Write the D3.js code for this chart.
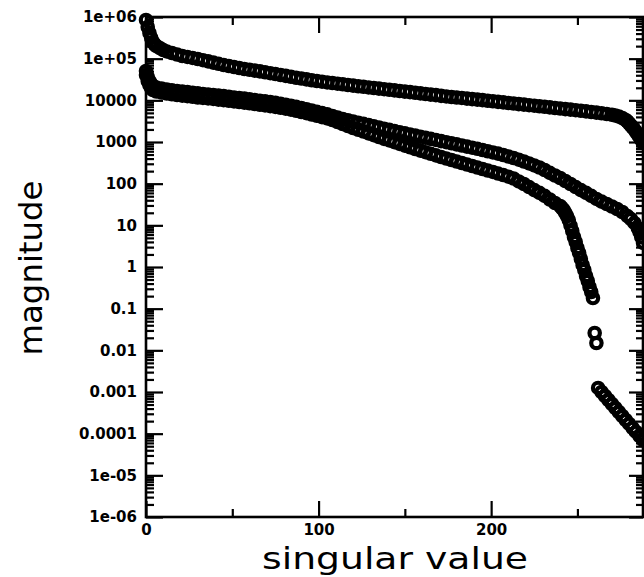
<!DOCTYPE html>
<html>
<head>
<meta charset="utf-8">
<script src="https://cdn.jsdelivr.net/npm/d3@7"></script>
<style>
  body { margin: 0; background: #fff; }
  .tick text { font-family: "DejaVu Sans", sans-serif; font-weight: bold; font-size: 15px; fill: #000; }
  .tick line { stroke: #000; stroke-width: 2.2; }
</style>
</head>
<body>
<div id="chart"></div>
<script>
// [singular value index, magnitude]
const upperBand = [[0,850000],[1,575000],[2,413000],[3,313000],[4,251000],[5,219000],[6,201000],[8,180000],[10,161000],[12,149000],[15,137000],[18,126000],[21,116000],[24,110000],[27,104000],[30,98000],[33,92000],[36,86000],[39,80500],[42,75300],[45,70500],[48,66700],[51,63100],[54,59700],[57,56500],[60,54000],[63,51700],[66,49500],[69,47100],[72,44800],[75,42900],[78,40600],[81,38600],[84,36700],[87,34900],[90,33400],[93,31800],[96,30400],[99,29100],[102,28000],[105,26900],[108,26100],[111,25100],[114,24300],[117,23300],[120,22600],[123,21800],[126,21100],[129,20400],[132,19800],[135,19100],[138,18500],[141,17900],[144,17300],[147,16700],[150,16200],[153,15700],[156,15200],[159,14700],[162,14200],[165,13700],[168,13300],[171,12800],[174,12400],[177,12000],[180,11700],[183,11400],[186,11000],[189,10700],[192,10400],[195,10100],[198,9750],[201,9480],[204,9170],[207,8920],[210,8630],[213,8390],[216,8120],[219,7900],[222,7640],[225,7430],[228,7190],[231,7000],[234,6770],[237,6550],[240,6370],[243,6160],[246,6000],[249,5800],[252,5610],[255,5420],[258,5250],[261,5080],[264,4890],[267,4700],[270,4500],[272,4330],[274,4090],[276,3770],[278,3370],[279,3100],[280,2780],[281,2490],[282,2230],[283,2000],[284,1740],[285,1510],[286,1320],[287,1120],[288,950]];

const lowerBandA = [[0,50600],[1,36300],[2,29100],[3,24700],[4,22100],[6,20300],[9,19200],[12,18200],[15,17500],[18,16700],[21,16200],[24,15700],[27,15200],[30,14700],[33,14200],[36,13800],[39,13400],[42,13000],[45,12600],[48,12200],[51,11700],[54,11400],[57,11000],[60,10600],[63,10200],[66,9800],[69,9420],[72,9070],[75,8670],[78,8260],[81,7850],[84,7430],[87,7000],[90,6550],[93,6120],[96,5700],[99,5310],[102,4940],[105,4600],[108,4210],[111,3870],[114,3560],[117,3320],[120,3100],[123,2900],[126,2720],[129,2550],[132,2380],[135,2230],[138,2080],[141,1950],[144,1830],[147,1710],[150,1610],[153,1510],[156,1430],[159,1340],[162,1260],[165,1190],[168,1120],[171,1050],[174,990],[177,930],[180,875],[183,824],[186,776],[189,730],[192,687],[195,643],[198,601],[201,562],[204,527],[207,488],[210,449],[213,413],[216,376],[219,340],[222,306],[225,274],[228,244],[231,213],[234,182],[237,157],[240,137],[243,116],[246,98],[249,83],[252,70],[255,60],[258,51],[261,43],[264,37],[267,32.5],[270,28.3],[273,24.7],[276,20.9],[279,16.7],[281,14.2],[283,11.4],[285,8.6],[286,6.9],[287,5.2],[288,3.8]];

const lowerBandB = [[0,40600],[1,29100],[2,23300],[3,19800],[4,17700],[6,16300],[9,15400],[12,14600],[15,14000],[18,13400],[21,13000],[24,12600],[27,12200],[30,11700],[33,11400],[36,11100],[39,10800],[42,10400],[45,10100],[48,9750],[51,9420],[54,9120],[57,8830],[60,8490],[63,8170],[66,7850],[69,7550],[72,7280],[75,6950],[78,6620],[81,6300],[84,5960],[87,5610],[90,5250],[93,4910],[96,4570],[99,4260],[102,3960],[105,3680],[108,3370],[111,3020],[114,2700],[117,2420],[120,2170],[123,1960],[126,1780],[129,1610],[132,1460],[135,1320],[138,1190],[141,1090],[144,990],[147,900],[150,820],[153,746],[156,679],[159,622],[162,569],[165,521],[168,477],[171,437],[174,402],[177,370],[180,340],[183,313],[186,288],[189,265],[192,244],[195,225],[198,207],[201,191],[204,175],[207,161],[210,147],[213,133],[216,113],[219,98],[222,83],[225,70],[228,60],[231,51],[234,41.7],[237,34.4],[240,29.1],[241,26.1],[242,23.3],[243,19.8],[244,16.7],[245,13.4],[246,9.86],[247,7.31],[248,5.25],[249,3.98],[250,2.86],[251,2.17],[252,1.56],[253,1.12],[254,0.847],[255,0.608],[256,0.461],[257,0.331],[258,0.251],[259,0.18],[260,0.0261],[261,0.015],[262,0.00125],[264,0.001],[266,0.000802],[268,0.000643],[270,0.000515],[272,0.000413],[274,0.000331],[276,0.000265],[278,0.000213],[280,0.000171],[282,0.000137],[284,0.00011],[286,0.0000879],[288,0.0000705]];

const yMajor = [1e6, 1e5, 1e4, 1e3, 100, 10, 1, 0.1, 0.01, 1e-3, 1e-4, 1e-5, 1e-6];
const yMajorLabels = ["1e+06", "1e+05", "10000", "1000", "100", "10", "1", "0.1", "0.01", "0.001", "0.0001", "1e-05", "1e-06"];
const xMajor = [0, 100, 200];
const xMinor = [50, 150, 250];

let width = 644,
    height = 577,
    plot = {left: 146, top: 17, right: 643, bottom: 517};

let svg = d3.select('#chart').append('svg')
    .attr('width', width)
    .attr('height', height)
    .style('background', '#fff');

let x = d3.scaleLinear()
    .domain([0, 288])
    .range([plot.left, plot.right]);

let y = d3.scaleLog()
    .domain([1e-6, 1e6])
    .range([plot.bottom, plot.top]);

// minor log ticks 2..9 in every decade
let yMinor = [];
yMajor.slice(1).forEach(d => {
    for (let k = 2; k <= 9; k++) yMinor.push(d * k);
});

const noLabel = () => '';

// left axis
svg.append('g')
    .attr('transform', `translate(${plot.left}, 0)`)
    .call(d3.axisLeft(y).tickValues(yMajor).tickSize(-17).tickPadding(9)
        .tickFormat((d, i) => yMajorLabels[i]))
    .call(g => g.select('.domain').remove());
svg.append('g')
    .attr('transform', `translate(${plot.left}, 0)`)
    .call(d3.axisLeft(y).tickValues(yMinor).tickSize(-8).tickFormat(noLabel))
    .call(g => g.select('.domain').remove());

// right axis
svg.append('g')
    .attr('transform', `translate(${plot.right}, 0)`)
    .call(d3.axisRight(y).tickValues(yMajor).tickSize(-14).tickFormat(noLabel))
    .call(g => g.select('.domain').remove());
svg.append('g')
    .attr('transform', `translate(${plot.right}, 0)`)
    .call(d3.axisRight(y).tickValues(yMinor).tickSize(-7).tickFormat(noLabel))
    .call(g => g.select('.domain').remove());

// bottom axis
svg.append('g')
    .attr('transform', `translate(0, ${plot.bottom})`)
    .call(d3.axisBottom(x).tickValues(xMajor).tickSize(-16).tickPadding(7))
    .call(g => g.select('.domain').remove());
svg.append('g')
    .attr('transform', `translate(0, ${plot.bottom})`)
    .call(d3.axisBottom(x).tickValues(xMinor).tickSize(-8).tickFormat(noLabel))
    .call(g => g.select('.domain').remove());

// top axis
svg.append('g')
    .attr('transform', `translate(0, ${plot.top})`)
    .call(d3.axisTop(x).tickValues(xMajor).tickSize(-16).tickFormat(noLabel))
    .call(g => g.select('.domain').remove());
svg.append('g')
    .attr('transform', `translate(0, ${plot.top})`)
    .call(d3.axisTop(x).tickValues(xMinor).tickSize(-8).tickFormat(noLabel))
    .call(g => g.select('.domain').remove());

// frame
svg.append('rect')
    .attr('x', plot.left)
    .attr('y', plot.top)
    .attr('width', plot.right - plot.left)
    .attr('height', plot.bottom - plot.top)
    .attr('fill', 'none')
    .attr('stroke', '#000')
    .attr('stroke-width', 2.6);

// markers: heavy open circles, dense enough to merge into bands
let point_g = svg.append('g').attr('class', 'points');
[upperBand, lowerBandA, lowerBandB].forEach(series => {
    point_g.append('g')
        .selectAll('circle')
        .data(series)
        .join('circle')
        .attr('cx', d => x(d[0]))
        .attr('cy', d => y(d[1]))
        .attr('r', 5.2)
        .attr('fill', 'none')
        .attr('stroke', '#000')
        .attr('stroke-width', 4.2);
});

// axis titles
svg.append('text')
    .attr('x', 395)
    .attr('y', 569)
    .attr('text-anchor', 'middle')
    .attr('textLength', 266)
    .attr('lengthAdjust', 'spacingAndGlyphs')
    .style('font-family', '"DejaVu Sans", sans-serif')
    .style('font-size', '30px')
    .text('singular value');

svg.append('text')
    .attr('transform', 'translate(42, 268) rotate(-90)')
    .attr('text-anchor', 'middle')
    .attr('textLength', 175)
    .attr('lengthAdjust', 'spacingAndGlyphs')
    .style('font-family', '"DejaVu Sans", sans-serif')
    .style('font-size', '32px')
    .text('magnitude');
</script>
</body>
</html>
